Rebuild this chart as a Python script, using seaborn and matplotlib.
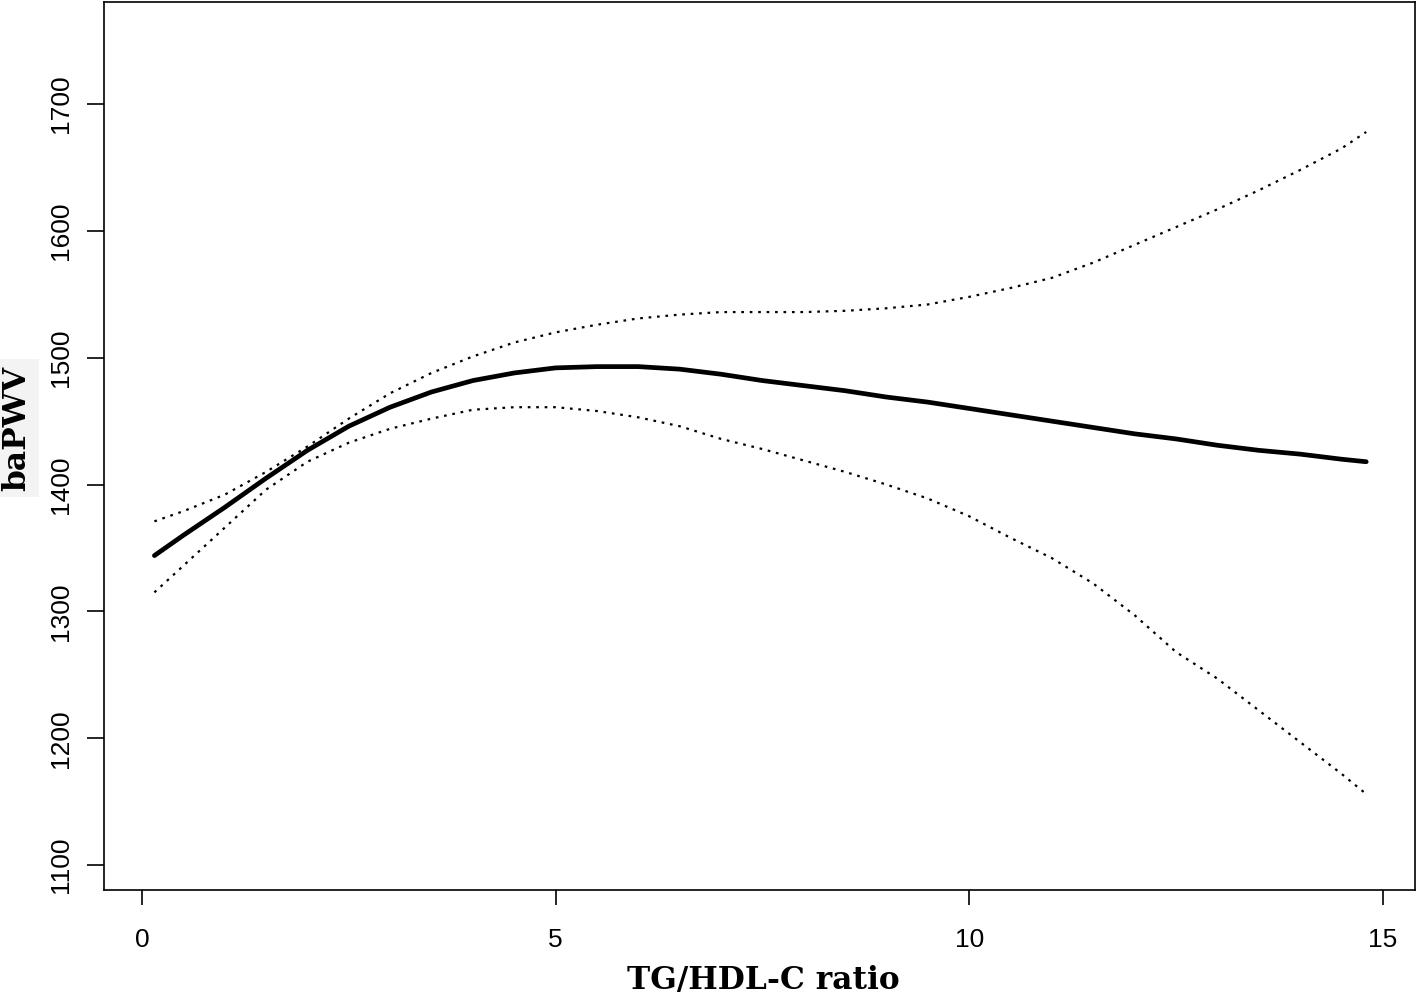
import numpy as np
import pandas as pd
import matplotlib
matplotlib.use('Agg')
import matplotlib.pyplot as plt
import seaborn as sns

# TG/HDL-C ratio values where the curves were read
ratio = [0.15, 0.5, 1.0, 1.5, 2.0, 2.5, 3.0, 3.5, 4.0, 4.5, 5.0, 5.5, 6.0, 6.5, 7.0, 7.5,
         8.0, 8.5, 9.0, 9.5, 10.0, 10.5, 11.0, 11.5, 12.0, 12.5, 13.0, 13.5, 14.0, 14.5, 14.8]

# fitted baPWV
fit = [1344, 1360, 1382, 1405, 1427, 1446, 1461, 1473, 1482, 1488, 1492, 1493, 1493, 1491, 1487, 1482,
       1478, 1474, 1469, 1465, 1460, 1455, 1450, 1445, 1440, 1436, 1431, 1427, 1424, 1420, 1418]

# 95% CI bounds
upper = [1371, 1379, 1392, 1410, 1430, 1452, 1472, 1488, 1501, 1512, 1520, 1526, 1531, 1534, 1536, 1536,
         1536, 1537, 1539, 1542, 1548, 1555, 1563, 1575, 1589, 1603, 1617, 1632, 1648, 1665, 1678]
lower = [1315, 1336, 1366, 1396, 1418, 1433, 1444, 1452, 1459, 1461, 1461, 1458, 1453, 1446, 1436, 1428,
         1419, 1410, 1400, 1389, 1375, 1358, 1342, 1322, 1297, 1268, 1247, 1222, 1197, 1172, 1156]

x_ticks = [0, 5, 10, 15]
y_ticks = [1100, 1200, 1300, 1400, 1500, 1600, 1700]

df = pd.DataFrame({'ratio': ratio, 'fit': fit, 'upper': upper, 'lower': lower})

sns.set_style('ticks')
plt.rcParams['font.family'] = ['Liberation Sans', 'DejaVu Sans']

fig = plt.figure(figsize=(14.18, 9.97), dpi=100)
ax = fig.add_axes([0.0733, 0.1073, 0.9246, 0.8907])

dots = (0, (1.2, 2.6))
sns.lineplot(data=df, x='ratio', y='upper', ax=ax, color='black', lw=1.6, linestyle=dots)
sns.lineplot(data=df, x='ratio', y='lower', ax=ax, color='black', lw=1.6, linestyle=dots)
sns.lineplot(data=df, x='ratio', y='fit', ax=ax, color='black', lw=3.4)

ax.set_xlim(-0.46, 15.39)
ax.set_ylim(1080.3, 1780.5)
ax.set_xticks(x_ticks)
ax.set_yticks(y_ticks)
ax.set_xticklabels([str(t) for t in x_ticks])
ax.set_yticklabels([str(t) for t in y_ticks], rotation=90, va='center')

for side in ['left', 'right', 'top', 'bottom']:
    ax.spines[side].set_visible(True)
    ax.spines[side].set_linewidth(1.2)
    ax.spines[side].set_color('black')

ax.tick_params(axis='x', direction='out', length=11, width=1.2, pad=16, labelsize=19,
               color='black', labelcolor='black')
ax.tick_params(axis='y', direction='out', length=12, width=1.2, pad=10, labelsize=19,
               color='black', labelcolor='black')

ax.set_xlabel('TG/HDL-C ratio', family='DejaVu Serif', fontweight='bold', fontsize=22.5, color='black')
ax.xaxis.set_label_coords(0.503, -0.084)
ax.set_ylabel('')
fig.text(17 / 1418, 1 - 428 / 997, 'baPWV', family='DejaVu Serif', fontweight='bold', fontsize=22.5,
         rotation=90, ha='center', va='center', color='black',
         bbox=dict(facecolor='#f3f3f3', edgecolor='none', pad=5))

fig.savefig('out.png', dpi=100)
